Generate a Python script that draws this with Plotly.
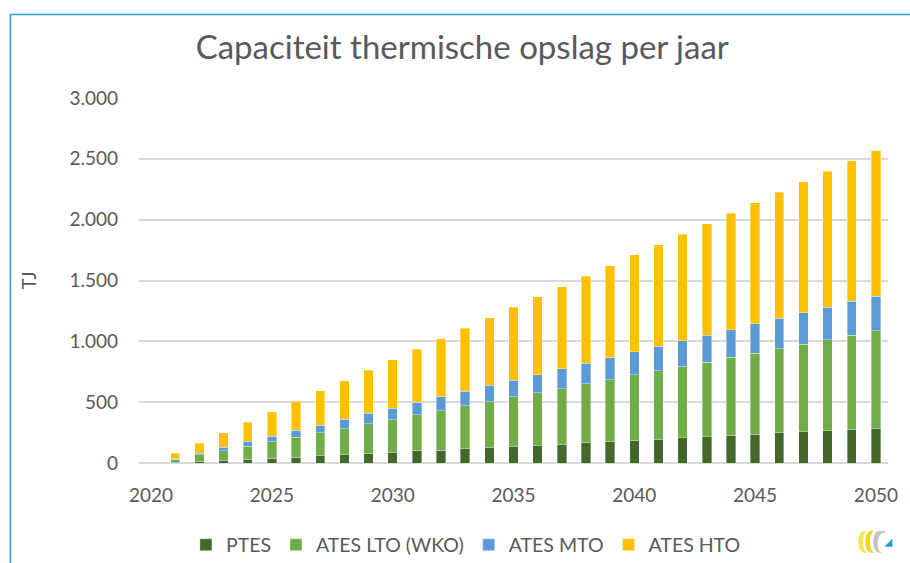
import plotly.graph_objects as go

years = list(range(2021, 2051))

ptes = [3, 11, 21, 30, 41, 49, 60, 69, 80, 87, 99, 104, 118, 128, 137,
        145, 156, 169, 180, 186, 194, 208, 214, 227, 238, 247, 255, 266, 276, 285]
ates_lto = [27, 55, 78, 108, 132, 162, 187, 213, 241, 269, 296, 324, 351, 374, 406,
            431, 455, 481, 505, 538, 565, 589, 616, 644, 666, 693, 723, 748, 774, 800]
ates_mto = [8, 14, 29, 39, 46, 57, 65, 77, 87, 93, 103, 115, 120, 136, 136,
            150, 164, 169, 181, 189, 200, 209, 220, 225, 239, 249, 255, 266, 279, 285]
ates_hto = [41, 84, 121, 157, 203, 239, 283, 318, 354, 401, 439, 479, 518, 554, 601,
            639, 675, 716, 756, 797, 836, 874, 915, 957, 998, 1036, 1078, 1116, 1154, 1198]

y_ticks = [0, 500, 1000, 1500, 2000, 2500, 3000]
y_tick_labels = ["0", "500", "1.000", "1.500", "2.000", "2.500", "3.000"]
x_ticks = [2020, 2025, 2030, 2035, 2040, 2045, 2050]

series = [
    ("PTES", ptes, "#43682B"),
    ("ATES LTO (WKO)", ates_lto, "#70AD47"),
    ("ATES MTO", ates_mto, "#5B9BD5"),
    ("ATES HTO", ates_hto, "#FFC000"),
]

fig = go.Figure()
for name, vals, color in series:
    fig.add_bar(
        x=years, y=vals, name=name, width=0.39,
        marker=dict(color=color, line=dict(color="rgba(255,255,255,0.45)", width=0.8)),
    )

font = "Lato, 'Open Sans', sans-serif"
grey = "#595959"

fig.update_layout(
    width=910, height=563,
    barmode="stack",
    plot_bgcolor="white", paper_bgcolor="white",
    margin=dict(l=139, r=14, t=98, b=100),
    font=dict(family=font, color=grey, size=19),
    title=dict(
        text="Capaciteit thermische opslag per jaar",
        x=0.508, xref="container", xanchor="center",
        y=0.915, yref="container", yanchor="middle",
        font=dict(size=33, color=grey, family=font),
    ),
    legend=dict(
        orientation="h", xref="container", yref="container",
        x=0.512, xanchor="center", y=0.032, yanchor="middle",
        font=dict(size=19.5, color=grey), itemwidth=30, traceorder="normal",
    ),
    xaxis=dict(
        range=[2019.5, 2050.5], tickmode="array", tickvals=x_ticks,
        showgrid=False, zeroline=False, showline=False,
        ticklabelstandoff=19, tickfont=dict(size=19, color=grey),
    ),
    yaxis=dict(
        range=[0, 3000], tickmode="array", tickvals=y_ticks, ticktext=y_tick_labels,
        showgrid=True, gridcolor="#D9D9D9", gridwidth=1.5,
        zeroline=True, zerolinecolor="#D9D9D9", zerolinewidth=1.5,
        ticklabelstandoff=20, tickfont=dict(size=19, color=grey),
        title=dict(text="TJ", font=dict(size=19, color=grey), standoff=27),
    ),
)

# blue frame around the chart (left and top edge visible)
fig.add_shape(
    type="path", xref="paper", yref="paper",
    path="M -0.1717,-0.28 L -0.1717,1.229 L 1.03,1.229",
    line=dict(color="#2E9BD6", width=1.5),
)

# small logo bottom right
logo = [
    ("M 4,0 C -4,0 -4,-22 4,-22 L 8,-22 C 1,-22 1,0 8,0 Z", "#F4E45A"),
    ("M 11,0 C 3,0 3,-22 11,-22 L 15,-22 C 8,-22 8,0 15,0 Z", "#F5D21C"),
    ("M 19,0 C 11,0 11,-22 19,-22 L 22,-22 C 16,-22 15,-1 25,-2 L 24,0 Z", "#C4C4C4"),
    ("M 24,-16 L 32,-16 L 32,-8 Z", "#1E9BE0"),
]
for path, color in logo:
    fig.add_shape(
        type="path", xref="paper", yref="paper",
        xsizemode="pixel", ysizemode="pixel",
        xanchor=(868 - 139) / 757, yanchor=(463.3 - 531) / 364.8,
        path=path, fillcolor=color, line=dict(width=0),
    )

fig.write_html(
    "out.html",
    config={"displayModeBar": False},
    post_script="document.body.style.margin='0';document.body.style.overflow='hidden';",
)
